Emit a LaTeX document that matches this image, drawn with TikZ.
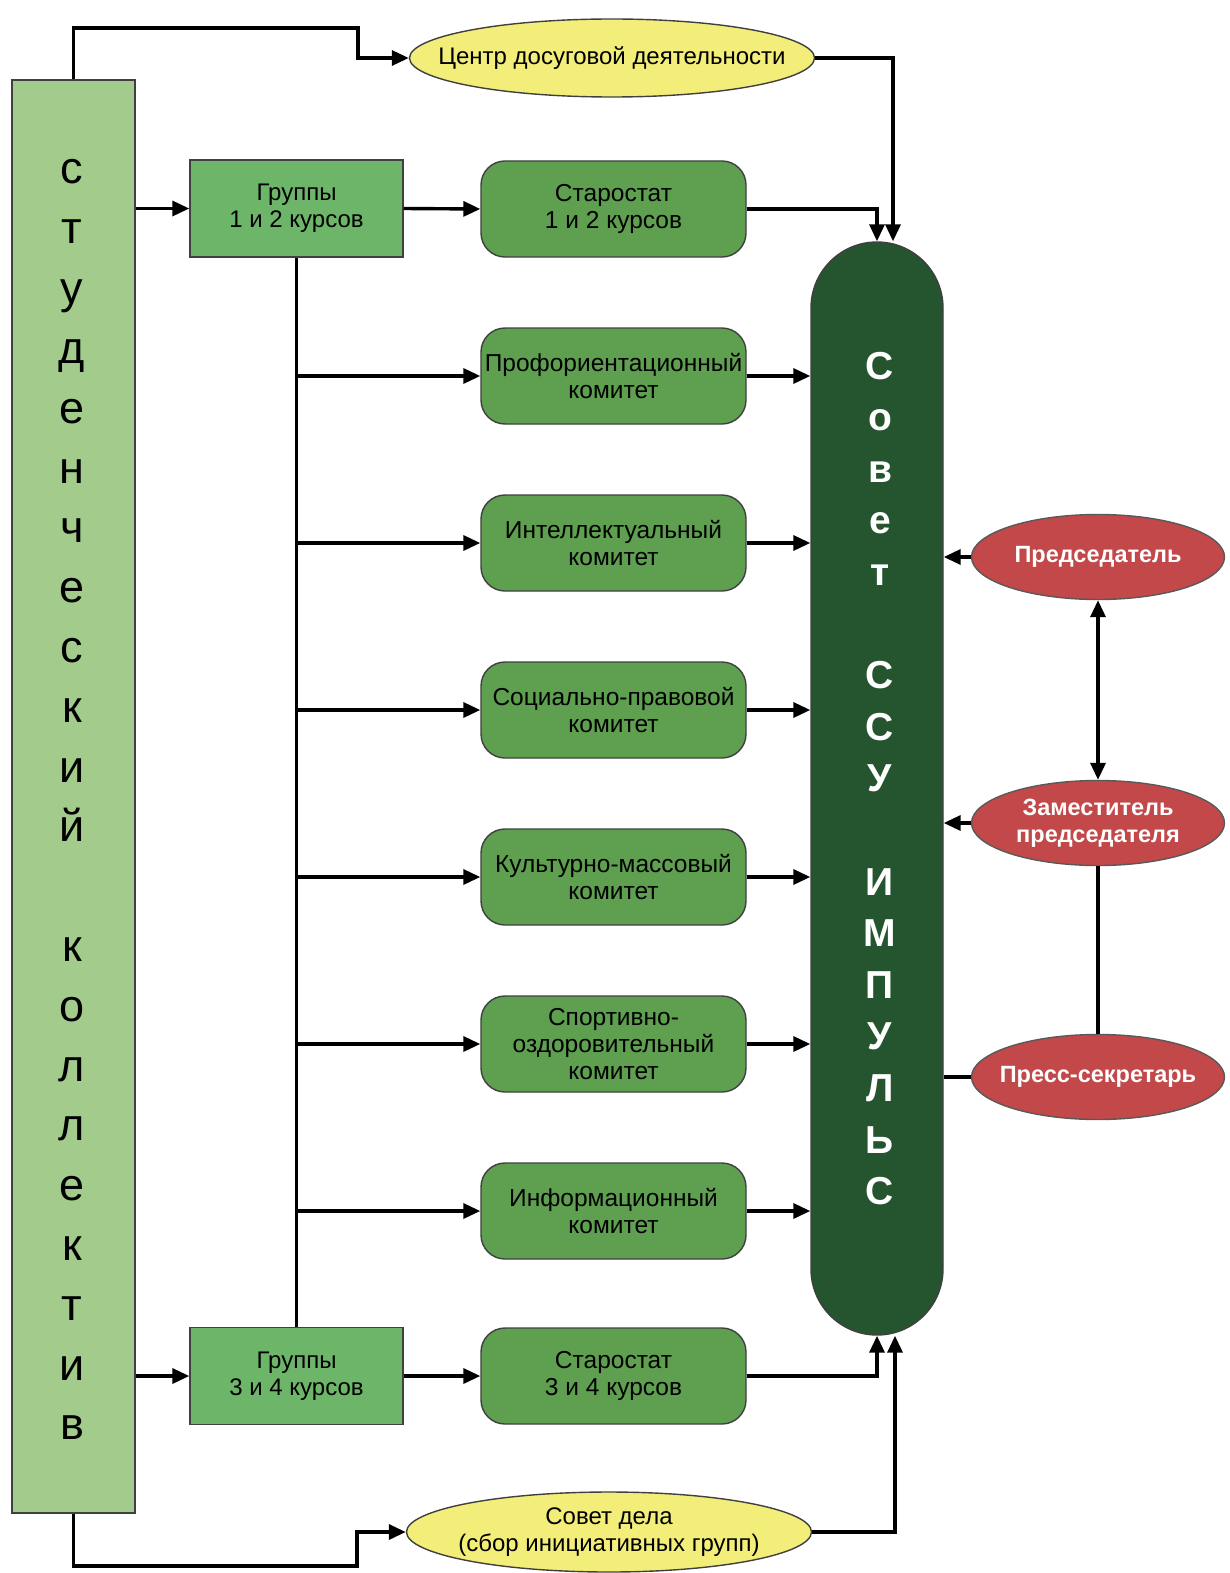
\documentclass[tikz,border=0pt]{standalone}
\usepackage{fontspec}
\setmainfont{Liberation Sans}
\usetikzlibrary{arrows.meta,shapes.geometric,calc}
\definecolor{colgreen}{HTML}{A2CB8C}
\definecolor{grpgreen}{HTML}{6DB669}
\definecolor{comgreen}{HTML}{5E9F50}
\definecolor{sovgreen}{HTML}{24552F}
\definecolor{redfill}{HTML}{C24849}
\definecolor{yelfill}{HTML}{F3EE79}
\tikzset{
  tip/.tip={Triangle[length=17pt,width=15pt]},
  conn/.style={line width=3.4pt,-tip},
  biconn/.style={line width=3.4pt,tip-tip},
  plainline/.style={line width=3.4pt},
  colbox/.style={draw=black!75,line width=1.4pt,fill=colgreen,minimum width=123pt,minimum height=1433pt,inner sep=0pt},
  collet/.style={anchor=base,inner sep=0pt,font=\fontsize{45}{45}\selectfont},
  grpbox/.style={draw=black!75,line width=1.4pt,fill=grpgreen,minimum width=213pt,minimum height=97pt,inner sep=0pt,align=center,font=\fontsize{24}{27}\selectfont},
  combox/.style={draw=black!75,line width=1.4pt,fill=comgreen,rounded corners=24pt,minimum width=265pt,minimum height=96pt,inner sep=0pt,align=center,font=\fontsize{24.5}{27}\selectfont},
  sovbox/.style={draw=black!75,line width=1.4pt,fill=sovgreen,rounded corners=66pt,minimum width=132pt,minimum height=1093pt,inner sep=0pt},
  sovlet/.style={anchor=base,inner sep=0pt,text=white,font=\bfseries\fontsize{39}{39}\selectfont},
  redell/.style={ellipse,draw=black!65,line width=1.4pt,fill=redfill,minimum width=253pt,minimum height=85pt,inner sep=0pt},
  redtext/.style={text=white,align=center,font=\bfseries\fontsize{23.5}{27}\selectfont},
  yelell/.style={ellipse,draw=black!75,line width=1.4pt,fill=yelfill,minimum width=405pt,minimum height=78pt,inner sep=0pt},
  yeltext/.style={align=center,font=\fontsize{24}{27}\selectfont}
}
\begin{document}
\begin{tikzpicture}[x=1pt,y=-1pt]
\useasboundingbox (0,0) rectangle (1229,1573);

% main column
\node[colbox] (col) at (73.5,796.5) {};
\foreach \ch/\k in {с/0,т/1,у/2,д/3,е/4,н/5,ч/6,е/7,с/8,к/9,и/10,й/11,к/13,о/14,л/15,л/16,е/17,к/18,т/19,и/20,в/21}
  \node[collet] (cl\k) at (72,{184+59.8*\k}) {\ch};

% council
\node[sovbox] (sov) at (877,788.5) {};
\foreach \ch/\k in {С/0,о/1,в/2,е/3,т/4,С/6,С/7,У/8,И/10,М/11,П/12,У/13,Л/14,Ь/15,С/16}
  \node[sovlet] (sv\k) at (880,{379+51.6*\k}) {\ch};

% groups and starostats
\node[grpbox] (g12) at (296.5,208.5) {Группы\\1 и 2 курсов};
\node[grpbox] (g34) at (296.5,1376) {Группы\\3 и 4 курсов};
\node[combox] (st12) at (613.5,209) {Старостат\\1 и 2 курсов};
\node[combox] (st34) at (613.5,1376) {Старостат\\3 и 4 курсов};

% committees
\node[combox] (c1) at (613.5,376) {Профориентационный\\комитет};
\node[combox] (c2) at (613.5,543) {Интеллектуальный\\комитет};
\node[combox] (c3) at (613.5,710) {Социально-правовой\\комитет};
\node[combox] (c4) at (613.5,877) {Культурно-массовый\\комитет};
\node[combox] (c5) at (613.5,1044) {Спортивно-\\оздоровительный\\комитет};
\node[combox] (c6) at (613.5,1211) {Информационный\\комитет};

% yellow ellipses
\node[yelell,label={[yeltext]center:Центр досуговой деятельности}] (cdd) at (612,58) {};
\node[yelell,minimum height=80pt,label={[yeltext]center:{Совет дела\\(сбор инициативных групп)}}] (sd) at (609,1532) {};

% red ellipses
\node[redell,label={[redtext]center:Председатель}] (pred) at (1098,557) {};
\node[redell,label={[redtext]center:{Заместитель\\председателя}}] (zam) at (1098,823) {};
\node[redell,label={[redtext]center:Пресс-секретарь}] (press) at (1098,1077) {};

% helper corners
\coordinate (t1) at (358,28);
\coordinate (t2) at (357,1566);

% connectors
\draw[conn] (col.north) |- (t1) |- (cdd.west);
\draw[conn] (cdd.east) -| ([xshift=16pt]sov.north);
\draw[conn] (col.east |- g12.west) -- (g12.west);
\draw[conn] (g12.east) -- (st12.west);
\draw[conn] (st12.east) -| (sov.north);
\draw[plainline] (g12.south) -- (g34.north);
\foreach \i in {1,...,6}{
  \draw[conn] (g12.south |- c\i.west) -- (c\i.west);
  \draw[conn] (c\i.east) -- (c\i.east -| sov.west);
}
\draw[conn] (col.east |- g34.west) -- (g34.west);
\draw[conn] (g34.east) -- (st34.west);
\draw[conn] (st34.east) -| (sov.south);
\draw[conn] (col.south) |- (t2) |- (sd.west);
\draw[conn] (sd.east) -| ([xshift=18pt]sov.south);
\draw[conn] (pred.west) -- (pred.west -| sov.east);
\draw[conn] (zam.west) -- (zam.west -| sov.east);
\draw[plainline] (press.west) -- (press.west -| sov.east);
\draw[biconn] (pred.south) -- (zam.north);
\draw[plainline] (zam.south) -- (press.north);
\end{tikzpicture}
\end{document}
